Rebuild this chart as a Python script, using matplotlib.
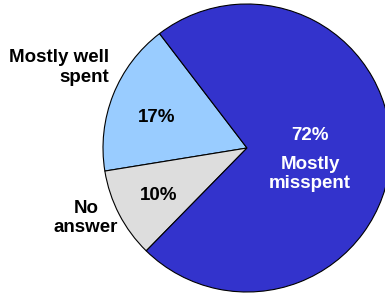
import matplotlib
matplotlib.use("Agg")
import matplotlib.pyplot as plt

# Data
labels = ["Mostly well spent", "No answer", "Mostly misspent"]
values = [17, 10, 72]
colors = ["#99CCFF", "#DDDDDD", "#3333CC"]

W, H = 385, 294
fig = plt.figure(figsize=(W / 100, H / 100), dpi=100)
plt.rcParams['font.family'] = ['Liberation Sans', 'DejaVu Sans']

# pie centre (247, 148) px, radius 144 px
cx, cy, r = 247, 148, 144
ax = fig.add_axes([(cx - r) / W, (H - cy - r) / H, 2 * r / W, 2 * r / H])
ax.pie(values, colors=colors, startangle=127.4, counterclock=True,
       wedgeprops=dict(edgecolor="black", linewidth=0.8))
ax.set_xlim(-1, 1)
ax.set_ylim(-1, 1)
ax.set_aspect("equal")
ax.axis("off")


def px(x, y):
    return x / W, 1 - y / H


txt = dict(fontsize=13.5, fontweight="bold", va="center", linespacing=1.2)

# outside labels
fig.text(*px(109, 67.5), "Mostly well\nspent", ha="right", color="black", **txt)
fig.text(*px(86, 218), "No\nanswer", ha="center", color="black", **txt)

# percentages inside slices
fig.text(*px(157, 118), f"{values[0]}%", ha="center", color="black", **txt)
fig.text(*px(159, 195), f"{values[1]}%", ha="center", color="black", **txt)
fig.text(*px(310, 135), f"{values[2]}%", ha="center", color="white", **txt)
fig.text(*px(310, 174), "Mostly\nmisspent", ha="center", color="white", **txt)

fig.savefig("out.png", dpi=100)
